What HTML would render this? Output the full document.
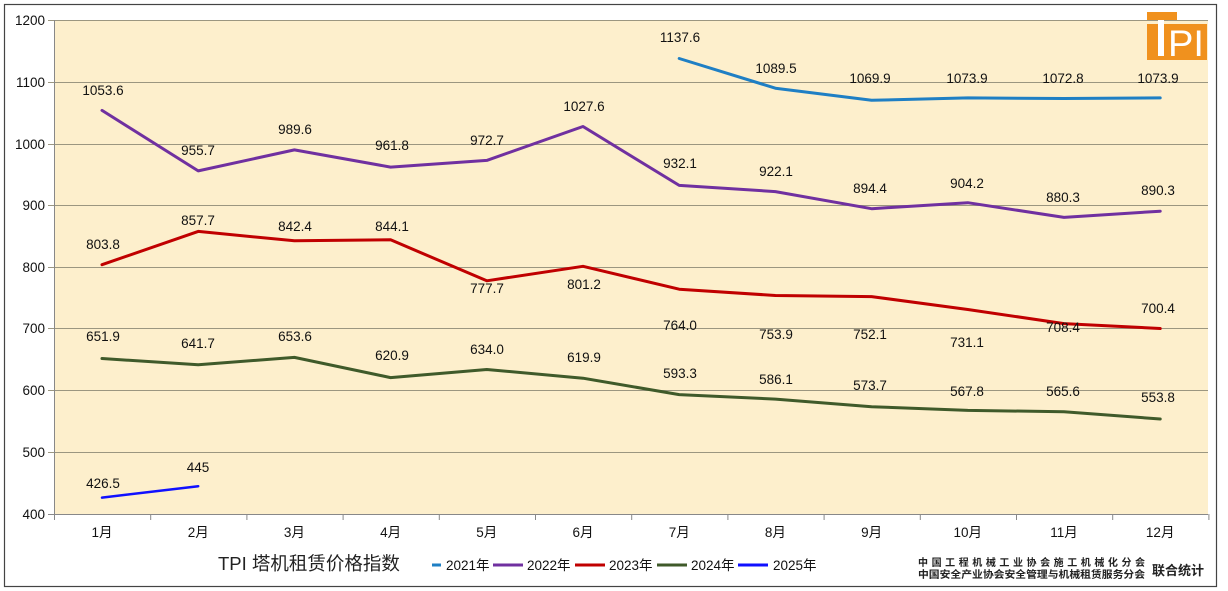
<!DOCTYPE html>
<html><head><meta charset="utf-8"><style>
html,body{margin:0;padding:0;background:#fff;}
svg{display:block;font-family:"Liberation Sans","Noto Sans CJK SC",sans-serif;}
</style></head><body>
<svg id="c" width="1228" height="591" viewBox="0 0 1228 591" xmlns="http://www.w3.org/2000/svg">
<rect x="4.5" y="4.5" width="1212" height="582" fill="#fff" stroke="#444" stroke-width="1.2"/>
<rect x="54" y="20" width="1154" height="494" fill="#fdefcc"/>
<g stroke="#9b9680" stroke-width="1">
<line x1="48" y1="20.5" x2="1208" y2="20.5"/>
<line x1="48" y1="82.5" x2="1208" y2="82.5"/>
<line x1="48" y1="144.5" x2="1208" y2="144.5"/>
<line x1="48" y1="205.5" x2="1208" y2="205.5"/>
<line x1="48" y1="267.5" x2="1208" y2="267.5"/>
<line x1="48" y1="328.5" x2="1208" y2="328.5"/>
<line x1="48" y1="390.5" x2="1208" y2="390.5"/>
<line x1="48" y1="452.5" x2="1208" y2="452.5"/>
<line x1="48" y1="514.5" x2="1208" y2="514.5" stroke="#888"/>
<line x1="54.5" y1="20" x2="54.5" y2="514" stroke="#888"/>
</g>
<g font-size="13.5" fill="#111" text-anchor="end">
<text x="45" y="25">1200</text><text x="45" y="87">1100</text><text x="45" y="149">1000</text>
<text x="45" y="210">900</text><text x="45" y="272">800</text><text x="45" y="333">700</text>
<text x="45" y="395">600</text><text x="45" y="457">500</text><text x="45" y="519">400</text>
</g>
<g id="ticks" stroke="#888"></g>
<g id="xl" font-size="13.5" fill="#111" text-anchor="middle"></g>
<g id="series" fill="none" stroke-width="3" stroke-linejoin="round" stroke-linecap="round"></g>
<g id="labels" font-size="13.5" fill="#111" text-anchor="middle"></g>
<rect x="1147" y="12" width="30" height="8" fill="#f0911e"/>
<rect x="1147" y="24" width="60" height="36" fill="#f0911e"/>
<rect x="1158" y="20" width="6" height="36" fill="#fff"/>
<text x="1168" y="56" font-size="37" fill="#fff" font-family="Liberation Sans,sans-serif" textLength="36" lengthAdjust="spacingAndGlyphs">PI</text>
<text x="218" y="570" font-size="18.5" fill="#222">TPI  塔机租赁价格指数</text>
<g stroke-width="3">
<line x1="432" y1="565" x2="441" y2="565" stroke="#1f7fc4"/>
<line x1="493" y1="565" x2="523" y2="565" stroke="#7030a0"/>
<line x1="575" y1="565" x2="605" y2="565" stroke="#c00000"/>
<line x1="657" y1="565" x2="687" y2="565" stroke="#3f5a2a"/>
<line x1="738" y1="565" x2="768" y2="565" stroke="#1010ff"/>
</g>
<g font-size="13.5" fill="#111">
<text x="446" y="570">2021年</text><text x="527" y="570">2022年</text><text x="609" y="570">2023年</text>
<text x="691" y="570">2024年</text><text x="773" y="570">2025年</text>
</g>
<g font-size="10" font-weight="bold" fill="#222">
<text x="918" y="566" textLength="227" lengthAdjust="spacing">中国工程机械工业协会施工机械化分会</text>
<text x="918" y="578" textLength="227" lengthAdjust="spacingAndGlyphs">中国安全产业协会安全管理与机械租赁服务分会</text>
</g>
<text x="1152" y="575" font-size="13" font-weight="bold" fill="#222">联合统计</text>
</svg>
<script>
var ns="http://www.w3.org/2000/svg";
function X(i){return 102+96.2*i;}
function Y(v){return 514-(v-400)*0.6175;}
function el(p,t,a,txt){var e=document.createElementNS(ns,t);for(var k in a)e.setAttribute(k,a[k]);if(txt!==undefined)e.textContent=txt;document.getElementById(p).appendChild(e);}
for(var i=0;i<=12;i++){var x=54.5+96.2*i;el("ticks","line",{x1:x,y1:514,x2:x,y2:520});}
for(var i=0;i<12;i++)el("xl","text",{x:X(i),y:537},(i+1)+"月");
var S=[
{c:"#1f7fc4",s:6,d:[1137.6,1089.5,1069.9,1073.9,1072.8,1073.9],L:[[680,37],[776,68],[870,78],[967,78],[1063,78],[1158,78]]},
{c:"#7030a0",s:0,d:[1053.6,955.7,989.6,961.8,972.7,1027.6,932.1,922.1,894.4,904.2,880.3,890.3],L:[[103,90],[198,150],[295,129],[392,145],[487,140],[584,106],[680,163],[776,171],[870,188],[967,183],[1063,197],[1158,190]]},
{c:"#c00000",s:0,d:[803.8,857.7,842.4,844.1,777.7,801.2,764.0,753.9,752.1,731.1,708.4,700.4],L:[[103,244],[198,220],[295,226],[392,226],[487,288],[584,284],[680,325],[776,334],[870,334],[967,342],[1063,327],[1158,308]]},
{c:"#3f5a2a",s:0,d:[651.9,641.7,653.6,620.9,634.0,619.9,593.3,586.1,573.7,567.8,565.6,553.8],L:[[103,336],[198,343],[295,336],[392,355],[487,349],[584,357],[680,373],[776,379],[870,385],[967,391],[1063,391],[1158,397]]},
{c:"#1010ff",s:0,w:2.5,d:[426.5,445],L:[[103,483],[198,467]]}
];
S.forEach(function(s){
 var pts=s.d.map(function(v,j){return X(s.s+j).toFixed(1)+","+Y(v).toFixed(1);}).join(" ");
 el("series","polyline",{points:pts,stroke:s.c,"stroke-width":s.w||3});
 s.d.forEach(function(v,j){
  var l=s.L[j];var t=(v===445)?"445":v.toFixed(1);
  el("labels","text",{x:l[0],y:l[1]+5},t);
 });
});
</script>
</body></html>
